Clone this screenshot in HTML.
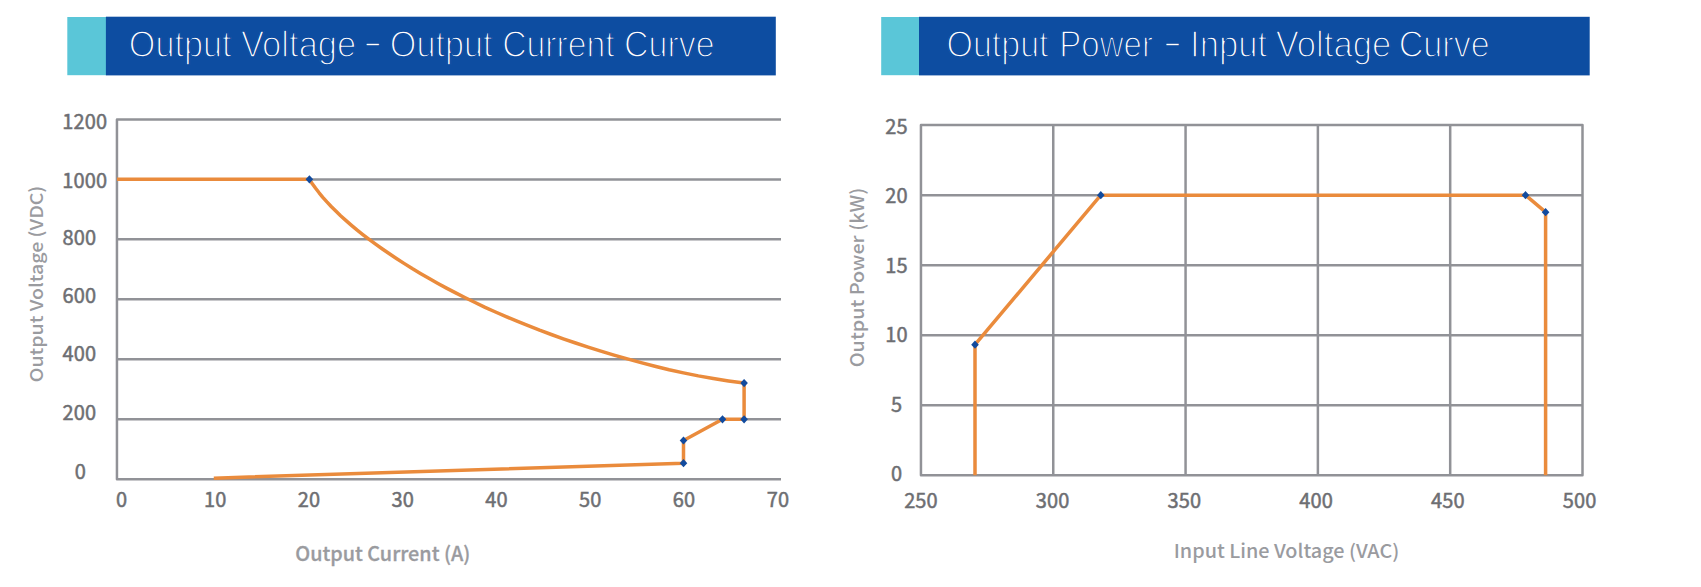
<!DOCTYPE html>
<html lang="en">
<head>
<meta charset="utf-8">
<title>Output Curves</title>
<style>
html,body{margin:0;padding:0;background:#fff;}
body{width:1701px;height:587px;overflow:hidden;position:relative;}
svg{position:absolute;left:0;top:0;display:block;}
.tk{font-family:"Noto Sans CJK SC","Liberation Sans",sans-serif;font-size:20px;font-weight:400;fill:#6d6e72;stroke:#6d6e72;stroke-width:0.5px;letter-spacing:0.15px;}
.at{font-family:"Noto Sans CJK SC","Liberation Sans",sans-serif;font-size:19.8px;font-weight:500;fill:#9a9b9f;stroke:#9a9b9f;stroke-width:0.3px;}
.hd{font-family:"Liberation Sans",sans-serif;font-size:36.5px;font-weight:400;fill:#fff;stroke:#0d4da1;stroke-width:1.5px;stroke-linejoin:round;}
</style>
</head>
<body>
<svg width="1701" height="587" viewBox="0 0 1701 587">

<rect x="67.3" y="17" width="39" height="58.2" fill="#5ac6d8"/>
<rect x="105.9" y="16.7" width="669.9" height="58.7" fill="#0d4da1"/>
<rect x="881.2" y="17" width="38" height="58.2" fill="#5ac6d8"/>
<rect x="919" y="16.8" width="670.7" height="58.6" fill="#0d4da1"/>
<text class="hd" transform="translate(128.8,57.4) scale(0.937,1)">Output</text>
<text class="hd" transform="translate(240.95,57.4) scale(0.948,1)">Voltage</text>
<text class="hd" transform="translate(362.4,53.8) scale(1.68,1)">-</text>
<text class="hd" transform="translate(389.8,57.4) scale(0.937,1)">Output</text>
<text class="hd" transform="translate(502.15,57.4) scale(0.924,1)">Current</text>
<text class="hd" transform="translate(624.1,57.4) scale(0.93,1)">Curve</text>
<text class="hd" transform="translate(946.5,57.4) scale(0.931,1)">Output</text>
<text class="hd" transform="translate(1059.3,57.4) scale(0.905,1)">Power</text>
<text class="hd" transform="translate(1162.3,53.85) scale(1.68,1)">-</text>
<text class="hd" transform="translate(1190,57.4) scale(0.95,1)">Input</text>
<text class="hd" transform="translate(1275.65,57.4) scale(0.949,1)">Voltage</text>
<text class="hd" transform="translate(1398.7,57.4) scale(0.935,1)">Curve</text>
<line x1="116.95" y1="179.41" x2="781" y2="179.41" stroke="#919297" stroke-width="2.5"/>
<line x1="116.95" y1="239.37" x2="781" y2="239.37" stroke="#919297" stroke-width="2.5"/>
<line x1="116.95" y1="299.33" x2="781" y2="299.33" stroke="#919297" stroke-width="2.5"/>
<line x1="116.95" y1="359.29" x2="781" y2="359.29" stroke="#919297" stroke-width="2.5"/>
<line x1="116.95" y1="419.25" x2="781" y2="419.25" stroke="#919297" stroke-width="2.5"/>
<path d="M781,119.45 L116.95,119.45 L116.95,479.21 L781,479.21" fill="none" stroke="#919297" stroke-width="2.5" stroke-linejoin="round"/>
<text class="tk" x="62.2" y="129.1">1200</text>
<text class="tk" x="62.2" y="187.5">1000</text>
<text class="tk" x="62.4" y="245.4">800</text>
<text class="tk" x="62.4" y="303.3">600</text>
<text class="tk" x="62.4" y="361.3">400</text>
<text class="tk" x="62.4" y="420.4">200</text>
<text class="tk" x="74.8" y="479.4">0</text>
<text class="tk" x="121.5" y="507.3" text-anchor="middle">0</text>
<text class="tk" x="215.3" y="507.3" text-anchor="middle">10</text>
<text class="tk" x="309.0" y="507.3" text-anchor="middle">20</text>
<text class="tk" x="402.8" y="507.3" text-anchor="middle">30</text>
<text class="tk" x="496.6" y="507.3" text-anchor="middle">40</text>
<text class="tk" x="590.3" y="507.3" text-anchor="middle">50</text>
<text class="tk" x="684.1" y="507.3" text-anchor="middle">60</text>
<text class="tk" x="777.9" y="507.3" text-anchor="middle">70</text>
<text class="at" x="382.8" y="560.7" text-anchor="middle">Output Current (A)</text>
<text class="at" transform="translate(42.6,283.95) scale(0.9,0.985) rotate(-90)" text-anchor="middle" style="stroke-width:0">Output Voltage (VDC)</text>
<path d="M117,179.35 L309.4,179.35 L312.3,183.8 L315.6,188.3 L319.1,192.8 L322.8,197.3 L326.9,201.9 L331.2,206.5 L335.8,211.1 L340.6,215.8 L345.8,220.4 L351.2,225.1 L356.9,229.9 L362.8,234.6 L369.1,239.4 L375.6,244.2 L382.4,249.0 L389.4,253.8 L396.8,258.7 L404.4,263.6 L412.2,268.5 L420.4,273.4 L428.8,278.3 L437.5,283.2 L446.5,288.1 L455.7,292.9 L465.3,297.7 L475.1,302.5 L485.1,307.3 L495.5,312.0 L506.1,316.6 L517.0,321.2 L528.2,325.7 L539.6,330.2 L551.3,334.5 L563.3,338.8 L575.6,343.0 L588.1,347.1 L600.9,351.1 L614.0,355.1 L627.4,358.9 L641.0,362.6 L654.9,366.2 L669.1,369.7 L683.5,372.9 L698.3,375.9 L713.3,378.5 L728.5,380.9 L744.1,383.1 L744.1,383.1 L744.1,419.3 L722.5,419.3 L683.5,440.5 L683.5,463.2 L213.8,478.15" fill="none" stroke="#ea8b3c" stroke-width="3.5" stroke-linejoin="round"/>
<path d="M305.6,179.3 L309.4,175.2 L313.2,179.3 L309.4,183.4 Z" fill="#124b9e"/>
<path d="M740.3,383.1 L744.1,379.0 L747.9,383.1 L744.1,387.2 Z" fill="#124b9e"/>
<path d="M740.3,419.3 L744.1,415.2 L747.9,419.3 L744.1,423.4 Z" fill="#124b9e"/>
<path d="M718.7,419.3 L722.5,415.2 L726.3,419.3 L722.5,423.4 Z" fill="#124b9e"/>
<path d="M679.7,440.5 L683.5,436.4 L687.3,440.5 L683.5,444.6 Z" fill="#124b9e"/>
<path d="M679.7,463.2 L683.5,459.1 L687.3,463.2 L683.5,467.3 Z" fill="#124b9e"/>
<line x1="920.95" y1="195.14" x2="1582.5" y2="195.14" stroke="#919297" stroke-width="2.5"/>
<line x1="920.95" y1="265.18" x2="1582.5" y2="265.18" stroke="#919297" stroke-width="2.5"/>
<line x1="920.95" y1="335.22" x2="1582.5" y2="335.22" stroke="#919297" stroke-width="2.5"/>
<line x1="920.95" y1="405.26" x2="1582.5" y2="405.26" stroke="#919297" stroke-width="2.5"/>
<line x1="1053.26" y1="125.1" x2="1053.26" y2="475.3" stroke="#919297" stroke-width="2.5"/>
<line x1="1185.57" y1="125.1" x2="1185.57" y2="475.3" stroke="#919297" stroke-width="2.5"/>
<line x1="1317.88" y1="125.1" x2="1317.88" y2="475.3" stroke="#919297" stroke-width="2.5"/>
<line x1="1450.19" y1="125.1" x2="1450.19" y2="475.3" stroke="#919297" stroke-width="2.5"/>
<rect x="920.95" y="125.1" width="661.55" height="350.20" fill="none" stroke="#919297" stroke-width="2.5" stroke-linejoin="round"/>
<text class="tk" x="896.5" y="133.8" text-anchor="middle">25</text>
<text class="tk" x="896.5" y="203.2" text-anchor="middle">20</text>
<text class="tk" x="896.5" y="272.7" text-anchor="middle">15</text>
<text class="tk" x="896.5" y="342.1" text-anchor="middle">10</text>
<text class="tk" x="896.5" y="411.6" text-anchor="middle">5</text>
<text class="tk" x="896.5" y="481.0" text-anchor="middle">0</text>
<text class="tk" x="921.0" y="507.6" text-anchor="middle">250</text>
<text class="tk" x="1052.7" y="507.6" text-anchor="middle">300</text>
<text class="tk" x="1184.4" y="507.6" text-anchor="middle">350</text>
<text class="tk" x="1316.2" y="507.6" text-anchor="middle">400</text>
<text class="tk" x="1447.9" y="507.6" text-anchor="middle">450</text>
<text class="tk" x="1579.6" y="507.6" text-anchor="middle">500</text>
<text class="at" transform="translate(1286.5,557.9) scale(1,0.95)" text-anchor="middle" style="stroke-width:0">Input Line Voltage (VAC)</text>
<text class="at" transform="translate(863.9,277.5) scale(0.93,1) rotate(-90)" text-anchor="middle" style="stroke-width:0">Output Power (kW)</text>
<path d="M975,475.3 L975,344.7 L1100.8,195.15 L1525.5,195.15 L1545.6,212.2 L1545.6,475.3" fill="none" stroke="#ea8b3c" stroke-width="3.5" stroke-linejoin="round"/>
<path d="M971.2,344.7 L975,340.6 L978.8,344.7 L975,348.8 Z" fill="#124b9e"/>
<path d="M1097.0,195.15 L1100.8,191.1 L1104.6,195.15 L1100.8,199.2 Z" fill="#124b9e"/>
<path d="M1521.7,195.15 L1525.5,191.1 L1529.3,195.15 L1525.5,199.2 Z" fill="#124b9e"/>
<path d="M1541.8,212.2 L1545.6,208.1 L1549.4,212.2 L1545.6,216.3 Z" fill="#124b9e"/>
</svg>
</body>
</html>
